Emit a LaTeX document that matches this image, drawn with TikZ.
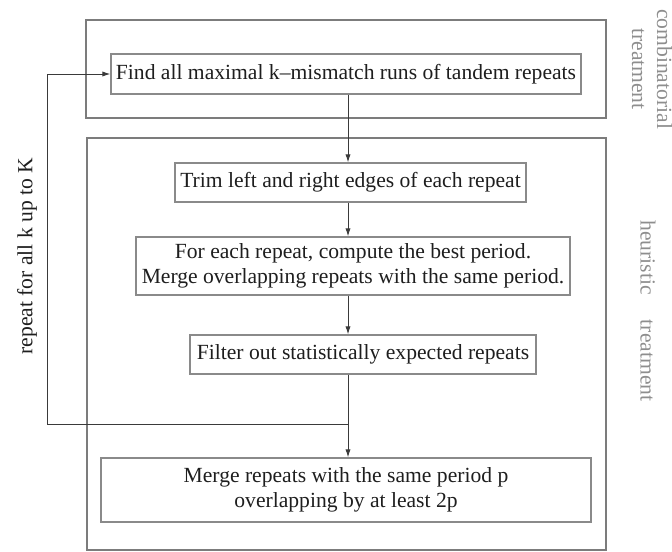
\documentclass[tikz,border=0pt]{standalone}
\usepackage{fontspec}
\setmainfont{Liberation Serif}
\usetikzlibrary{arrows.meta,positioning}
\definecolor{tdrInk}{HTML}{1E1E1E}
\definecolor{tdrEdgeInk}{HTML}{3A3A3A}
\definecolor{tdrFrameGray}{HTML}{7C7C7C}
\definecolor{tdrBoxGray}{HTML}{8A8A8A}
\definecolor{tdrLabelGray}{HTML}{8E8E8E}
\tikzset{
  tdrFrame/.style={draw=tdrFrameGray,line width=0.9pt},
  tdrStage/.style={draw=tdrBoxGray,line width=0.65pt,text=tdrInk},
  tdrSide/.style={text=tdrLabelGray},
  tdrFlow/.style={draw=tdrEdgeInk,line width=0.45pt}
}

\begin{document}
\begin{tikzpicture}[x=0.5pt,y=-0.5pt,
  box/.style={align=center,inner sep=0pt,
              font=\fontsize{10.8}{12.5}\selectfont},
  >={Latex[length=4pt,width=2.6pt]}]
\useasboundingbox (0,0) rectangle (672,551);
% treatment frames
\draw[tdrFrame] (86,20) rectangle (606,118);
\draw[tdrFrame] (87,138) rectangle (606,550);
% stages
\node[box,tdrStage,minimum width=235pt,minimum height=20pt] (find) at (346,74)
{Find all maximal k--mismatch runs of tandem repeats};
\node[box,tdrStage,minimum width=175.5pt,minimum height=19.5pt] (trim) at (350.5,182.5)
{Trim left and right edges of each repeat};
\node[box,tdrStage,minimum width=217pt,minimum height=29pt] (period) at (353,266)
{For each repeat, compute the best period.\\
Merge overlapping repeats with the same period.};
\node[box,tdrStage,minimum width=173pt,minimum height=19.5pt] (filter) at (363,354.5)
{Filter out statistically expected repeats};
\node[box,tdrStage,minimum width=245pt,minimum height=32pt] (merge) at (346,490)
{Merge repeats with the same period p\\overlapping by at least 2p};
% side labels
\node[box,tdrSide,rotate=-90] (combi) at (652,69) {combinatorial\\treatment};
\node[box,tdrSide,rotate=-90] (heur) at (648,311) {heuristic\hspace{12.5pt}treatment};
\node[box,text=tdrInk,rotate=90] (loop) at (27,256) {repeat for all k up to K};
% connectors
\coordinate (spine) at (348,0);
\coordinate (join) at (348,424);
\coordinate (back) at (47,424);
\draw[tdrFlow,->] (find.south -| spine) -- (trim.north -| spine);
\draw[tdrFlow,->] (trim.south -| spine) -- (period.north -| spine);
\draw[tdrFlow,->] (period.south -| spine) -- (filter.north -| spine);
\draw[tdrFlow,->] (filter.south -| spine) -- (merge.north -| spine);
\draw[tdrFlow,->] (join) -- (back) |- (find.west);
\end{tikzpicture}
\end{document}
